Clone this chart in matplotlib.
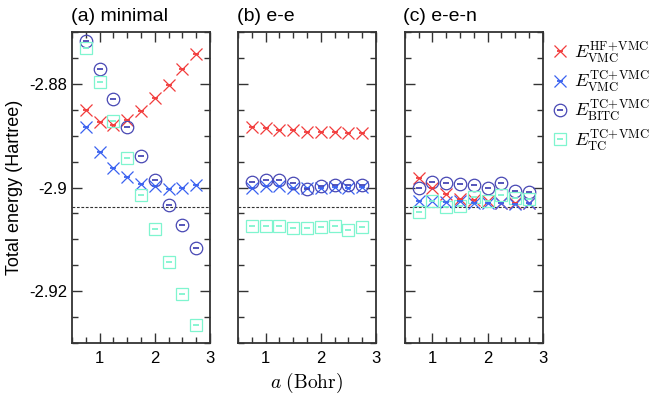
import numpy as np
import matplotlib
matplotlib.use("Agg")
import matplotlib.pyplot as plt
from matplotlib.ticker import MultipleLocator, FixedLocator, FixedFormatter
from matplotlib.legend_handler import HandlerTuple

plt.rcParams['font.family'] = ['Liberation Sans', 'DejaVu Sans']
plt.rcParams['mathtext.fontset'] = 'cm'

# bond length a (Bohr)
a = [0.75, 1.0, 1.25, 1.5, 1.75, 2.0, 2.25, 2.5, 2.75]
e_exact = -2.903724

# (a) minimal
min_hf_vmc = [-2.8851, -2.8874, -2.8879, -2.8869, -2.8852, -2.8828, -2.8802, -2.8772, -2.8742]
min_tc_vmc = [-2.8884, -2.8931, -2.8962, -2.8980, -2.8994, -2.8998, -2.9002, -2.9000, -2.8995]
min_bitc = [-2.8717, -2.8772, -2.8830, -2.8883, -2.8939, -2.8986, -2.9033, -2.9072, -2.9117]
min_tc = [-2.8730, -2.8797, -2.8871, -2.8943, -2.9014, -2.9081, -2.9143, -2.9206, -2.9265]

# (b) e-e
ee_hf_vmc = [-2.8883, -2.8885, -2.8889, -2.8889, -2.8892, -2.8892, -2.8892, -2.8894, -2.8894]
ee_tc_vmc = [-2.9000, -2.8998, -2.8998, -2.9000, -2.9001, -2.9000, -2.8999, -2.9000, -2.8999]
ee_bitc = [-2.8989, -2.8986, -2.8986, -2.8991, -2.9002, -2.8997, -2.8995, -2.8995, -2.8995]
ee_tc = [-2.9074, -2.9074, -2.9074, -2.9079, -2.9078, -2.9076, -2.9074, -2.9082, -2.9076]

# (c) e-e-n
een_hf_vmc = [-2.8981, -2.9000, -2.9013, -2.9022, -2.9024, -2.9027, -2.9029, -2.9030, -2.9029]
een_tc_vmc = [-2.9026, -2.9026, -2.9028, -2.9027, -2.9030, -2.9029, -2.9030, -2.9031, -2.9030]
een_bitc = [-2.9000, -2.8989, -2.8991, -2.8994, -2.8996, -2.9000, -2.8991, -2.9006, -2.9009]
een_tc = [-2.9047, -2.9027, -2.9037, -2.9035, -2.9019, -2.9027, -2.9014, -2.9021, -2.9022]

titles = ['(a) minimal', '(b) e-e', '(c) e-e-n']
labels = [r'$E^{\mathrm{HF\!+\!VMC}}_{\mathrm{VMC}}$', r'$E^{\mathrm{TC\!+\!VMC}}_{\mathrm{VMC}}$',
          r'$E^{\mathrm{TC\!+\!VMC}}_{\mathrm{BITC}}$', r'$E^{\mathrm{TC\!+\!VMC}}_{\mathrm{TC}}$']
panels = [
    [min_hf_vmc, min_tc_vmc, min_bitc, min_tc],
    [ee_hf_vmc, ee_tc_vmc, ee_bitc, ee_tc],
    [een_hf_vmc, een_tc_vmc, een_bitc, een_tc],
]

styles = [
    dict(marker='x', color='#f23c3c', ms=8.5, mew=0.9),
    dict(marker='x', color='#3a62f0', ms=8.5, mew=0.9),
    dict(marker='o', color='#4848b4', ms=9, mew=0.9, mfc='none'),
    dict(marker='s', color='#7ff5cf', ms=9, mew=0.9, mfc='none'),
]

fig = plt.figure(figsize=(6.54, 3.96), dpi=100)
lefts = [0.110, 0.364, 0.619]
axes = []
for i, left in enumerate(lefts):
    ax = fig.add_axes([left, 0.134, 0.211, 0.785])
    axes.append(ax)
    ax.axhline(e_exact, color='#333333', lw=0.8, ls=(0, (2.5, 1.5)), zorder=1)
    handles = []
    for series, st in zip(panels[i], styles):
        h1, = ax.plot(a, series, ls='none', marker=st['marker'], color=st['color'],
                      ms=st['ms'], mew=st['mew'], mfc=st.get('mfc', st['color']), zorder=3)
        # short error-bar dash drawn in the middle of each point
        h2, = ax.plot(a, series, ls='none', marker='_', color=st['color'], ms=4, mew=1.3, zorder=4)
        handles.append((h1, h2))
    ax.set_xlim(0.5, 3)
    ax.set_ylim(-2.93, -2.87)
    ax.xaxis.set_major_locator(MultipleLocator(1))
    ax.xaxis.set_minor_locator(MultipleLocator(0.25))
    ax.yaxis.set_major_locator(FixedLocator([-2.92, -2.90, -2.88]))
    ax.yaxis.set_minor_locator(MultipleLocator(0.005))
    ax.tick_params(which='both', direction='in', top=True, right=True, labelsize=12,
                   width=1.0, color='#333333')
    ax.tick_params(which='major', length=7)
    ax.tick_params(which='minor', length=4)
    ax.tick_params(axis='x', which='major', pad=6)
    if i == 0:
        ax.yaxis.set_major_formatter(FixedFormatter(['-2.92', '-2.9', '-2.88']))
        ax.set_ylabel('Total energy (Hartree)', fontsize=13, labelpad=4)
    else:
        ax.set_yticklabels([])
    for sp in ax.spines.values():
        sp.set_linewidth(1.3)
        sp.set_color('#333333')
    ax.set_title(titles[i], loc='left', fontsize=14, pad=8, x=-0.01)

axes[1].set_xlabel(r'$a\ (\mathrm{Bohr})$', fontsize=14, labelpad=3)

axes[2].legend(handles, labels, loc='upper left', bbox_to_anchor=(1.02, 1.0),
               frameon=False, fontsize=13, handlelength=0.8, handletextpad=0.4,
               labelspacing=0.2, borderaxespad=0, numpoints=1,
               handler_map={tuple: HandlerTuple(ndivide=1)})

fig.savefig('out.png', dpi=100)
